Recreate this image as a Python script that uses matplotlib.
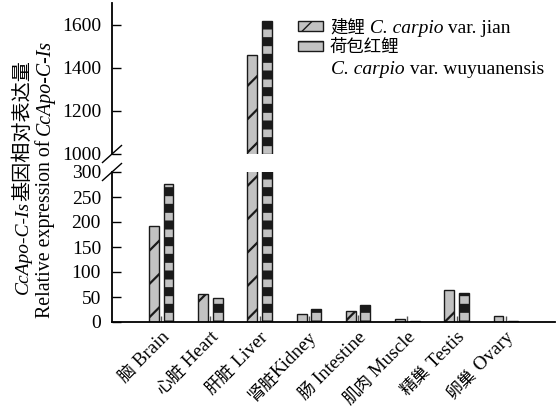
import math
import numpy as np
import matplotlib
matplotlib.use('Agg')
import matplotlib.pyplot as plt
from matplotlib.font_manager import FontProperties
from matplotlib.transforms import IdentityTransform

# ---------------- data ----------------
tissues_cn = ['脑', '心脏', '肝脏', '肾脏', '肠', '肌肉', '精巢', '卵巢']
tissues_en = ['Brain', 'Heart', 'Liver', 'Kidney', 'Intestine', 'Muscle', 'Testis', 'Ovary']
label_sep = [' ', ' ', ' ', '', ' ', ' ', ' ', ' ']
jian = [193, 56, 1460, 17, 23, 7, 65, 12]
wuyuanensis = [277, 48, 1618, 26, 35, 2, 59, 2]
err_marks = [12, 12, 13, 13, 14, 13, 12, 12]
low_ticks = [0, 50, 100, 150, 200, 250, 300]
high_ticks = [1000, 1200, 1400, 1600]

# ---------------- figure ----------------
W, H, DPI = 559, 408, 100
LAT = 'Liberation Serif'
CJK = 'Noto Sans CJK SC'
plt.rcParams['font.family'] = [LAT, CJK]
fig = plt.figure(figsize=(W / DPI, H / DPI), dpi=DPI)


def pt(pxv):
    return pxv * 72.0 / DPI


ax_lo = fig.add_axes([112 / W, 1 - 322 / H, 443 / W, 150 / H])
ax_hi = fig.add_axes([112 / W, 1 - 154 / H, 443 / W, 151 / H])

x = np.arange(len(tissues_en))
off, bw = 0.148, 0.2
FACE = '#c2c2c2'
EDGE = '#1a1a1a'


def draw_bars(ax):
    with plt.rc_context({'hatch.linewidth': 1.6}):
        b1 = ax.bar(x - off, jian, bw, color=FACE, edgecolor=EDGE,
                    linewidth=1.0, hatch='/', label='建鲤')
    with plt.rc_context({'hatch.linewidth': 6.5}):
        b2 = ax.bar(x + off, wuyuanensis, bw, color=FACE, edgecolor=EDGE,
                    linewidth=1.0, hatch='-', label='荷包红鲤')
    ax.vlines(x, 0, err_marks, color='#555555', lw=1.0)
    return b1, b2


b1, b2 = draw_bars(ax_lo)
draw_bars(ax_hi)

for ax in (ax_lo, ax_hi):
    ax.set_xlim(-1.0, 8.0)
    ax.spines['top'].set_visible(False)
    ax.spines['right'].set_visible(False)
    ax.spines['left'].set_linewidth(1.3)
    ax.tick_params(axis='y', direction='in', length=6.5, width=1.0,
                   labelsize=14, pad=pt(11))
    ax.tick_params(axis='x', length=0, labelbottom=False)
    ax.set_xticks(x)
    ax.patch.set_alpha(0)
ax_hi.spines['bottom'].set_visible(False)
ax_lo.spines['bottom'].set_linewidth(1.3)
ax_lo.set_ylim(0, 300)
ax_lo.set_yticks(low_ticks)
ax_hi.set_ylim(1000, 1700)
ax_hi.set_yticks(high_ticks)

# break marks
dx = 9.5 / 443
kw = dict(color='k', clip_on=False, lw=1.0)
ax_hi.plot([-dx, dx], [-8.5 / 151, 8.5 / 151], transform=ax_hi.transAxes, **kw)
ax_lo.plot([-dx, dx], [1 - 8.5 / 150, 1 + 8.5 / 150], transform=ax_lo.transAxes, **kw)

# ---------------- mixed-font text runs ----------------
renderer = fig.canvas.get_renderer()
ID = IdentityTransform()


def fp_lat(size, italic=False):
    return FontProperties(family=[LAT, CJK], size=size, style='italic' if italic else 'normal')


def fp_cjk(size):
    return FontProperties(family=[CJK], size=size)


def measure(s, fp):
    t = fig.text(0, 0, s, fontproperties=fp, transform=ID)
    w = t.get_window_extent(renderer).width
    t.remove()
    return w


def run(pieces, xr, yr, angle=0.0, align='left'):
    """Draw pieces along a baseline; (xr, yr) in reference pixel coords (y down)."""
    widths = [measure(s, fp) for s, fp in pieces]
    total = sum(widths)
    ux, uy = math.cos(math.radians(angle)), math.sin(math.radians(angle))
    xd, yd = xr, H - yr
    shift = {'left': 0.0, 'center': total / 2.0, 'right': total}[align]
    sx, sy = xd - shift * ux, yd - shift * uy
    pos = 0.0
    for (s, fp), w in zip(pieces, widths):
        fig.text(sx + pos * ux, sy + pos * uy, s, fontproperties=fp,
                 rotation=angle, rotation_mode='anchor', ha='left',
                 va='baseline', transform=ID)
        pos += w


# y-axis label (two lines, rotated)
run([('CcApo-C-Is', fp_lat(14, True)), ('基因相对表达量', fp_cjk(14.5))],
    28, 177, angle=90, align='center')
run([('Relative expression of ', fp_lat(14.3)), ('CcApo-C-Is', fp_lat(14.3, True))],
    50, 179, angle=90, align='center')

# category labels
xpix = ax_lo.transData.transform(np.column_stack([x, np.zeros(len(x))]))[:, 0]
for xp, cn, sep, en in zip(xpix, tissues_cn, label_sep, tissues_en):
    run([(cn, fp_cjk(12.3)), (sep + en, fp_lat(13.8))], xp + 9, 338, angle=45, align='right')

# legend (handles) + mixed-style labels
leg = ax_hi.legend([b1, b2], ['', ''], loc='upper left',
                   bbox_to_anchor=(298, H - 21), bbox_transform=ID,
                   frameon=False, borderpad=0, borderaxespad=0,
                   handlelength=25 / 14.0, handleheight=10 / 14.0,
                   handletextpad=0, labelspacing=0.5, fontsize=pt(14))
run([('建鲤', fp_cjk(12.5)), (' C. carpio', fp_lat(14, True)), (' var. jian', fp_lat(14))],
    330, 33)
run([('荷包红鲤', fp_cjk(12.5)),], 330, 52)
run([('C. carpio', fp_lat(14, True)), (' var. wuyuanensis', fp_lat(14))], 331, 74)

fig.savefig('out.png', dpi=DPI)
